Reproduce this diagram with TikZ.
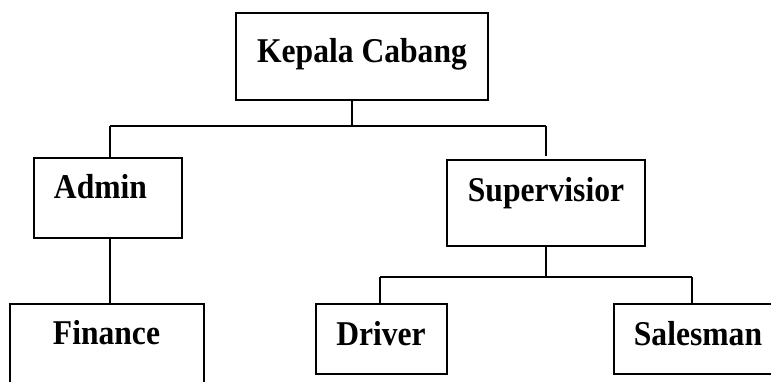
\documentclass[tikz,border=0pt]{standalone}
\usepackage{fontspec}
\setmainfont{Liberation Serif}
\usetikzlibrary{calc}
\begin{document}
\begin{tikzpicture}[x=1pt,y=1pt,
  box/.style={draw,line width=1.5pt,rectangle,inner sep=0pt},
  lbl/.style={anchor=base,inner sep=0pt,font=\fontsize{31.6}{36}\selectfont\bfseries},
  conn/.style={line width=1.5pt}]
\useasboundingbox (0,0) rectangle (771,382);
% boxes (y measured from bottom)
\node[box,minimum width=252pt,minimum height=87pt] (k) at (362,325.5) {};
\node[box,minimum width=148pt,minimum height=80pt] (a) at (108,184) {};
\node[box,minimum width=194pt,minimum height=90pt] (f) at (107,33) {};
\node[box,minimum width=198pt,minimum height=86pt] (s) at (546,179) {};
\node[box,minimum width=131pt,minimum height=70pt] (d) at (381.5,43) {};
\node[box,minimum width=171pt,minimum height=70pt] (sl) at (699.5,43) {};
% labels
\node[lbl] at (362,319) {\scalebox{1}[1.1]{Kepala Cabang}};
\node[lbl] at (100.5,183) {\scalebox{1}[1.1]{Admin}};
\node[lbl] at (546,180) {\scalebox{1}[1.1]{Supervisior}};
\node[lbl] at (106.5,37) {\scalebox{1}[1.1]{Finance}};
\node[lbl] at (381,36) {\scalebox{1}[1.1]{Driver}};
\node[lbl] at (698,36) {\scalebox{1}[1.1]{Salesman}};
% connectors
\coordinate (kj) at (352,256);
\coordinate (ka) at (110,256);
\coordinate (kb) at (546,256);
\coordinate (sd) at (380,105);
\coordinate (ss) at (692,105);
\draw[conn] (kj |- k.south) -- (kj);
\draw[conn] (ka) -- (kb);
\draw[conn] (ka) -- (ka |- a.north);
\draw[conn] (kb) -- ($(kb |- s.north)+(0,3)$);
\draw[conn] (ka |- a.south) -- (ka |- f.north);
\draw[conn] (s.south) -- (s.south |- sd);
\draw[conn] (sd) -- (ss);
\draw[conn] (sd) -- (sd |- d.north);
\draw[conn] (ss) -- (ss |- sl.north);
\end{tikzpicture}
\end{document}
